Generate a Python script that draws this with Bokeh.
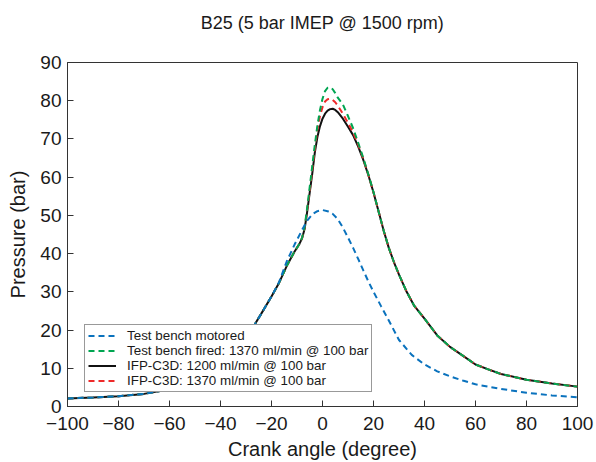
from bokeh.plotting import figure
from bokeh.models import Legend, LegendItem, FixedTicker, Title
from bokeh.embed import file_html
from bokeh.resources import INLINE

# ---- data ----
x_motored = [-100, -90, -80, -70, -60, -50, -45, -40, -35, -30, -27, -24, -20, -17, -14, -11,
             -8, -6, -4, -2, 0, 2, 4, 6, 8, 10, 12, 14, 16, 18, 20, 23, 26, 30, 35, 40, 45,
             50, 55, 60, 70, 80, 90, 100]
p_motored = [2.1, 2.35, 2.7, 3.3, 4.5, 6.4, 8.0, 10.3, 13.6, 17.8, 21.0, 24.3, 28.8, 32.6, 38.0, 42.3,
             46.2, 48.6, 50.3, 51.1, 51.4, 51.1, 50.4, 49.0, 46.8, 44.2, 41.5, 38.6, 35.6, 32.7, 30.0,
             26.2, 22.5, 17.4, 13.5, 11.0, 9.2, 7.9, 6.8, 5.8, 4.6, 3.6, 2.9, 2.4]

x_fired = [-100, -90, -80, -70, -60, -50, -45, -40, -35, -30, -27, -24, -20, -17, -14, -11, -9,
           -8, -7, -6, -5, -4, -3, -2, -1, 0, 1, 2, 3, 4, 5, 6, 8, 10, 12, 14, 16, 18, 20, 22,
           24, 26, 28, 30, 33, 36, 40, 45, 50, 55, 60, 65, 70, 80, 90, 100]
p_fired = [2.1, 2.35, 2.7, 3.3, 4.5, 6.4, 8.0, 10.3, 13.6, 17.8, 21.0, 24.3, 28.8, 32.4, 36.8, 40.5, 42.6,
           44.2, 47.0, 52.0, 57.5, 63.0, 68.5, 73.5, 77.5, 80.5, 82.5, 83.4, 83.5, 83.0, 82.0, 80.8, 79.0,
           76.0, 72.8, 69.0, 65.0, 60.7, 56.1, 51.0, 46.0, 41.5, 37.8, 34.5, 30.0, 26.3, 23.0, 18.6,
           15.6, 13.3, 11.0, 9.7, 8.5, 7.0, 6.0, 5.2]

x_sim1200 = list(x_fired)
p_sim1200 = [2.1, 2.35, 2.7, 3.3, 4.5, 6.4, 8.0, 10.3, 13.6, 17.8, 21.0, 24.3, 28.8, 32.4, 36.8, 40.5, 42.6,
             44.0, 46.5, 51.0, 56.0, 61.0, 66.5, 70.5, 73.3, 75.3, 76.6, 77.4, 77.8, 77.9, 77.6, 77.0, 75.3,
             73.2, 71.0, 68.0, 64.5, 60.5, 56.0, 51.0, 46.0, 41.5, 37.8, 34.5, 30.0, 26.3, 23.0, 18.6,
             15.6, 13.3, 11.0, 9.7, 8.5, 7.0, 6.0, 5.2]

x_sim1370 = list(x_fired)
p_sim1370 = [2.1, 2.35, 2.7, 3.3, 4.5, 6.4, 8.0, 10.3, 13.6, 17.8, 21.0, 24.3, 28.8, 32.4, 36.8, 40.5, 42.6,
             44.1, 46.8, 51.5, 56.5, 62.0, 67.5, 72.5, 76.0, 78.3, 79.8, 80.4, 80.5, 80.2, 79.6, 78.7, 76.6,
             74.2, 71.7, 68.5, 64.8, 60.6, 56.0, 51.0, 46.0, 41.5, 37.8, 34.5, 30.0, 26.3, 23.0, 18.6,
             15.6, 13.3, 11.0, 9.7, 8.5, 7.0, 6.0, 5.2]

title_text = "B25 (5 bar IMEP @ 1500 rpm)"
labels = ["Test bench motored",
          "Test bench fired: 1370 ml/min @ 100 bar",
          "IFP-C3D: 1200 ml/min @ 100 bar",
          "IFP-C3D: 1370 ml/min @ 100 bar"]
x_ticks = [-100, -80, -60, -40, -20, 0, 20, 40, 60, 80, 100]
y_ticks = [0, 10, 20, 30, 40, 50, 60, 70, 80, 90]

FONT = "Liberation Sans"
BLUE = "#0a72bd"
GREEN = "#00a551"
RED = "#ee2a2a"
BLACK = "#111111"

p = figure(width=596, height=462, x_range=(-100, 100), y_range=(0, 90),
           output_backend="svg", toolbar_location=None,
           min_border_left=67, min_border_right=19, min_border_top=62, min_border_bottom=56)

# an empty spacer title next to the frame pushes the real title up
spacer = Title(text=" ", text_font=FONT, text_font_size="25px", standoff=0)
p.add_layout(spacer, "above")
main_title = Title(text=title_text, align="center", text_font=FONT, text_font_size="18px",
                   text_font_style="normal", text_color="#1a1a1a", standoff=0)
p.add_layout(main_title, "above")

p.xgrid.visible = False
p.ygrid.visible = False
p.outline_line_color = "#333333"
p.outline_line_width = 1
p.outline_line_alpha = 1.0

for ax in (p.xaxis[0], p.yaxis[0]):
    ax.major_tick_in = 6
    ax.major_tick_out = 0
    ax.minor_tick_in = 0
    ax.minor_tick_out = 0
    ax.axis_line_color = "#333333"
    ax.major_tick_line_color = "#333333"
    ax.major_label_text_font = FONT
    ax.major_label_text_font_size = "19px"
    ax.major_label_text_color = "#1a1a1a"
    ax.axis_label_text_font = FONT
    ax.axis_label_text_font_size = "20px"
    ax.axis_label_text_font_style = "normal"
    ax.axis_label_text_color = "#1a1a1a"

p.xaxis.ticker = FixedTicker(ticks=x_ticks)
p.yaxis.ticker = FixedTicker(ticks=y_ticks)
p.xaxis.axis_label = "Crank angle (degree)"
p.yaxis.axis_label = "Pressure (bar)"
p.xaxis.major_label_standoff = 10
p.xaxis.axis_label_standoff = 5
p.yaxis.major_label_standoff = 6
p.yaxis.axis_label_standoff = 8

r_black = p.line(x_sim1200, p_sim1200, line_color=BLACK, line_width=2)
r_red = p.line(x_sim1370, p_sim1370, line_color=RED, line_width=2, line_dash="6 4")
r_green = p.line(x_fired, p_fired, line_color=GREEN, line_width=2, line_dash="6 4")
r_blue = p.line(x_motored, p_motored, line_color=BLUE, line_width=2, line_dash="6 4")

legend = Legend(items=[LegendItem(label=labels[0], renderers=[r_blue]),
                       LegendItem(label=labels[1], renderers=[r_green]),
                       LegendItem(label=labels[2], renderers=[r_black]),
                       LegendItem(label=labels[3], renderers=[r_red])],
                location=(17, 14))
legend.label_text_font = FONT
legend.label_text_font_size = "13.4px"
legend.label_text_color = "#1a1a1a"
legend.label_height = 15
legend.glyph_height = 15
legend.glyph_width = 28
legend.label_standoff = 11
legend.spacing = 0
legend.padding = 3
legend.margin = 0
legend.border_line_color = "#333333"
legend.border_line_width = 1
legend.background_fill_alpha = 1.0
p.add_layout(legend)

open("out.html", "w").write(file_html(p, INLINE))
